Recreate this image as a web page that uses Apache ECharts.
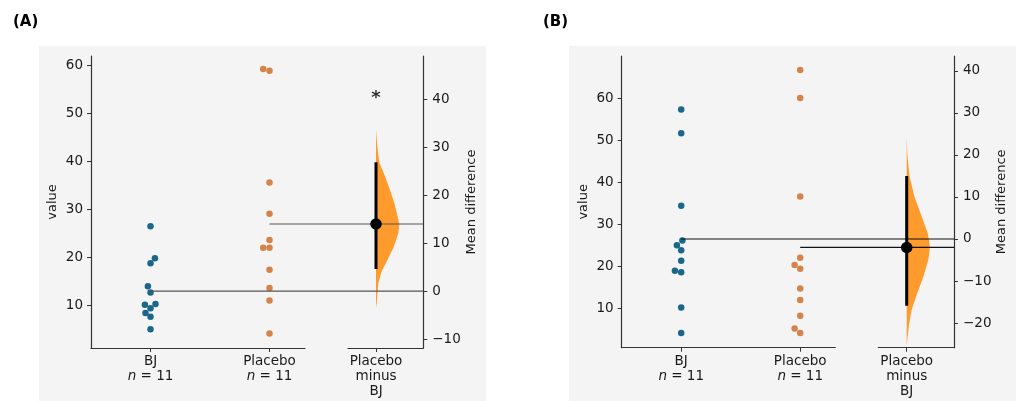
<!DOCTYPE html>
<html>
<head>
<meta charset="utf-8">
<script src="https://cdn.jsdelivr.net/npm/echarts@6/dist/echarts.min.js"></script>
<style>
  html, body { margin: 0; padding: 0; background: #fff; }
  #chart { width: 1016px; height: 401px; }
</style>
</head>
<body>
<div id="chart"></div>
<script>
// ---- panel A data ----
const bjA = [26.5, 19.8, 18.8, 14.0, 12.7, 10.1, 10.3, 9.4, 8.4, 7.6, 5.0]
const bjSwarmA = [0, 0.037, 0, -0.022, 0, -0.047, 0.042, 0, -0.042, 0, 0]
const placeboA = [59.3, 58.9, 35.6, 29.1, 23.6, 22.0, 22.0, 17.4, 13.6, 11.0, 4.1]
const placeboSwarmA = [-0.053, 0, 0, 0, 0, -0.053, 0, 0, 0, 0, 0]
const ciA = [4.6, 26.9]
// bootstrap distribution of the mean difference (value, relative density)
const bootDiffA = [33.6, 30.0, 26.9, 23.9, 21.1, 18.3, 15.5, 14.0, 12.1, 9.3, 6.5, 4.1, 1.7, -2.5, -3.5]
const bootDensA = [0, 0.06, 0.14, 0.39, 0.6, 0.79, 0.93, 1.0, 0.96, 0.77, 0.49, 0.24, 0.1, 0.03, 0]
const sigA = '*'

// ---- panel B data ----
const bjB = [57.3, 51.6, 34.4, 26.1, 25.0, 23.8, 21.3, 18.9, 18.6, 10.2, 4.1]
const bjSwarmB = [0, 0, 0, 0.01, -0.036, 0, 0, -0.053, 0, 0, 0]
const placeboB = [66.7, 60.0, 36.6, 22.0, 20.3, 19.4, 14.7, 12.0, 8.2, 5.2, 4.1]
const placeboSwarmB = [0, 0, 0, 0, -0.047, 0, 0, 0, 0, -0.047, 0]
const ciB = [-15.9, 15.0]
const bootDiffB = [24.3, 20.0, 14.9, 10.1, 5.4, 1.4, -1.8, -4.9, -8.9, -12.8, -16.8, -20.7, -25.4]
const bootDensB = [0, 0.03, 0.12, 0.33, 0.64, 0.9, 1.0, 0.93, 0.72, 0.46, 0.21, 0.09, 0]
const sigB = ''

const groups = ['BJ', 'Placebo']
const contrastLabel = 'Placebo\nminus\nBJ'
const valueTicksA = [10, 20, 30, 40, 50, 60]
const diffTicksA = [-10, 0, 10, 20, 30, 40]
const valueTicksB = [10, 20, 30, 40, 50, 60]
const diffTicksB = [-20, -10, 0, 10, 20, 30, 40]

const FONT = 'DejaVu Sans'
const TEXT = '#1a1a1a'
const AXIS = '#333'
const BLUE = '#1b678a'
const ORANGE = '#d4844a'
const VIOLIN = '#ff9a2c'
const U = 119          // px between group columns
const VIOLIN_W = 23.3  // px, widest part of the half violin

const mean = a => a.reduce((s, v) => s + v, 0) / a.length
const minus = v => (v < 0 ? '\u2212' + (-v) : '' + v)

const option = {
  animation: false,
  textStyle: { fontFamily: FONT },
  graphic: [],
  grid: [],
  xAxis: [],
  yAxis: [],
  series: []
}

function tickStyle(ticks, margin) {
  return {
    axisTick: { show: true, length: 4, customValues: ticks, lineStyle: { color: AXIS, width: 1 } },
    axisLabel: { customValues: ticks, margin: margin, fontSize: 13.5, color: TEXT, fontFamily: FONT, formatter: minus }
  }
}

function addPanel(p) {
  const g = option.grid.length
  const h = p.bottom - p.top
  const mBJ = mean(p.bj)
  const mPl = mean(p.placebo)
  const diff = mPl - mBJ
  const ovMax = -0.5 + (p.conRight - p.left) / U
  const rawMax = -0.5 + (p.rawRight - p.left) / U
  const conMin = -(p.conCenter - p.conLeft) / U
  const conMax = (p.conRight - p.conCenter) / U
  const line = { show: true, onZero: false, lineStyle: { color: AXIS, width: 1.2 } }

  option.graphic.push(
    { type: 'rect', z: -10, shape: { x: p.bgLeft, y: 46, width: p.bgWidth, height: 360 }, style: { fill: '#f4f4f4' } },
    { type: 'text', left: p.tagX, top: 15, style: { text: p.tag, font: 'bold 15px "DejaVu Sans"', fill: '#000' } }
  )

  option.grid.push(
    { left: p.left, top: p.top, width: p.conRight - p.left, height: h, outerBoundsMode: 'none' },
    { left: p.left, top: p.top, width: p.rawRight - p.left, height: h, outerBoundsMode: 'none' },
    { left: p.conLeft, top: p.top, width: p.conRight - p.conLeft, height: h, outerBoundsMode: 'none' }
  )

  // overlay: raw data, left value axis, mean lines
  option.xAxis.push({ gridIndex: g, type: 'value', min: -0.5, max: ovMax, show: false })
  option.yAxis.push(Object.assign({
    gridIndex: g, type: 'value', min: p.yMin, max: p.yMax,
    axisLine: line, splitLine: { show: false },
    name: 'value', nameLocation: 'middle', nameRotate: 90, nameGap: 32,
    nameTextStyle: { fontSize: 13, color: TEXT, fontFamily: FONT }
  }, tickStyle(p.valueTicks, 8)))

  // raw x axis (group labels)
  option.xAxis.push(Object.assign({
    gridIndex: g + 1, type: 'value', min: -0.5, max: rawMax,
    axisLine: line, splitLine: { show: false }
  }, tickStyle([0, 1], 6)))
  option.xAxis[g + 1].axisLabel.formatter = v => {
    const i = Math.round(v)
    const n = i === 0 ? p.bj.length : p.placebo.length
    return groups[i] + '\n{i|n} = ' + n
  }
  option.xAxis[g + 1].axisLabel.lineHeight = 15
  option.xAxis[g + 1].axisLabel.rich = { i: { fontStyle: 'italic', fontSize: 13.5, color: TEXT, fontFamily: FONT } }
  option.yAxis.push({ gridIndex: g + 1, type: 'value', min: p.yMin, max: p.yMax, show: false })

  // contrast axes
  option.xAxis.push(Object.assign({
    gridIndex: g + 2, type: 'value', min: conMin, max: conMax,
    axisLine: line, splitLine: { show: false }
  }, tickStyle([0], 6)))
  option.xAxis[g + 2].axisLabel.formatter = () => contrastLabel
  option.xAxis[g + 2].axisLabel.lineHeight = 15
  option.yAxis.push(Object.assign({
    gridIndex: g + 2, type: 'value', position: 'right',
    min: p.yMin - mBJ, max: p.yMax - mBJ,
    axisLine: line, splitLine: { show: false },
    name: 'Mean difference', nameLocation: 'middle', nameRotate: 90, nameGap: 40,
    nameTextStyle: { fontSize: 13, color: TEXT, fontFamily: FONT }
  }, tickStyle(p.diffTicks, 9)))

  option.series.push(
    {
      type: 'scatter', xAxisIndex: g, yAxisIndex: g, symbolSize: 6.5, z: 3,
      itemStyle: { color: BLUE, opacity: 1 },
      data: p.bj.map((v, i) => [p.bjSwarm[i], v])
    },
    {
      type: 'scatter', xAxisIndex: g, yAxisIndex: g, symbolSize: 6.5, z: 3,
      itemStyle: { color: ORANGE, opacity: 1 },
      data: p.placebo.map((v, i) => [1 + p.placeboSwarm[i], v])
    },
    {
      type: 'line', xAxisIndex: g, yAxisIndex: g, symbol: 'none', z: 4,
      lineStyle: { color: p.lineColor, width: 1.2 },
      data: [[0, mBJ], [ovMax, mBJ]]
    },
    {
      type: 'line', xAxisIndex: g, yAxisIndex: g, symbol: 'none', z: 4,
      lineStyle: { color: p.lineColor, width: 1.2 },
      data: [[1, mPl], [ovMax, mPl]]
    },
    {
      type: 'custom', xAxisIndex: g + 2, yAxisIndex: g + 2, z: 2,
      data: [[0, diff]],
      renderItem: (params, api) => {
        const w = VIOLIN_W / U
        const pts = p.bootDiff.map((d, i) => api.coord([p.bootDens[i] * w, d]))
        pts.push(api.coord([0, p.bootDiff[p.bootDiff.length - 1]]))
        pts.push(api.coord([0, p.bootDiff[0]]))
        return { type: 'polygon', shape: { points: pts }, style: { fill: VIOLIN } }
      }
    },
    {
      type: 'line', xAxisIndex: g + 2, yAxisIndex: g + 2, symbol: 'none', z: 5,
      lineStyle: { color: '#000', width: 3 },
      data: [[0, p.ci[0]], [0, p.ci[1]]]
    },
    {
      type: 'scatter', xAxisIndex: g + 2, yAxisIndex: g + 2, symbolSize: 11.5, z: 6,
      itemStyle: { color: '#000', opacity: 1 },
      data: [[0, diff]]
    }
  )
  if (p.sig) {
    option.series.push({
      type: 'scatter', xAxisIndex: g + 2, yAxisIndex: g + 2, symbolSize: 1, z: 6,
      itemStyle: { color: 'rgba(0,0,0,0)' },
      label: { show: true, position: 'inside', formatter: p.sig, fontSize: 18, fontWeight: 'bold', color: '#000', fontFamily: FONT, offset: [0, 4] },
      data: [[0, 41]]
    })
  }
}

addPanel({
  tag: '(A)', tagX: 13, bgLeft: 39, bgWidth: 447,
  left: 91, rawRight: 305, conLeft: 348, conCenter: 376, conRight: 423.3,
  top: 56, bottom: 348, yMin: 1.1, yMax: 62.0,
  valueTicks: valueTicksA, diffTicks: diffTicksA, lineColor: '#555',
  bj: bjA, bjSwarm: bjSwarmA, placebo: placeboA, placeboSwarm: placeboSwarmA,
  ci: ciA, bootDiff: bootDiffA, bootDens: bootDensA, sig: sigA
})
addPanel({
  tag: '(B)', tagX: 543, bgLeft: 569, bgWidth: 447,
  left: 621.7, rawRight: 835.3, conLeft: 878.3, conCenter: 906.7, conRight: 954,
  top: 56, bottom: 347.7, yMin: 0.63, yMax: 70.0,
  valueTicks: valueTicksB, diffTicks: diffTicksB, lineColor: '#111',
  bj: bjB, bjSwarm: bjSwarmB, placebo: placeboB, placeboSwarm: placeboSwarmB,
  ci: ciB, bootDiff: bootDiffB, bootDens: bootDensB, sig: sigB
})

const chart = echarts.init(document.getElementById('chart'))
chart.setOption(option)
</script>
</body>
</html>
